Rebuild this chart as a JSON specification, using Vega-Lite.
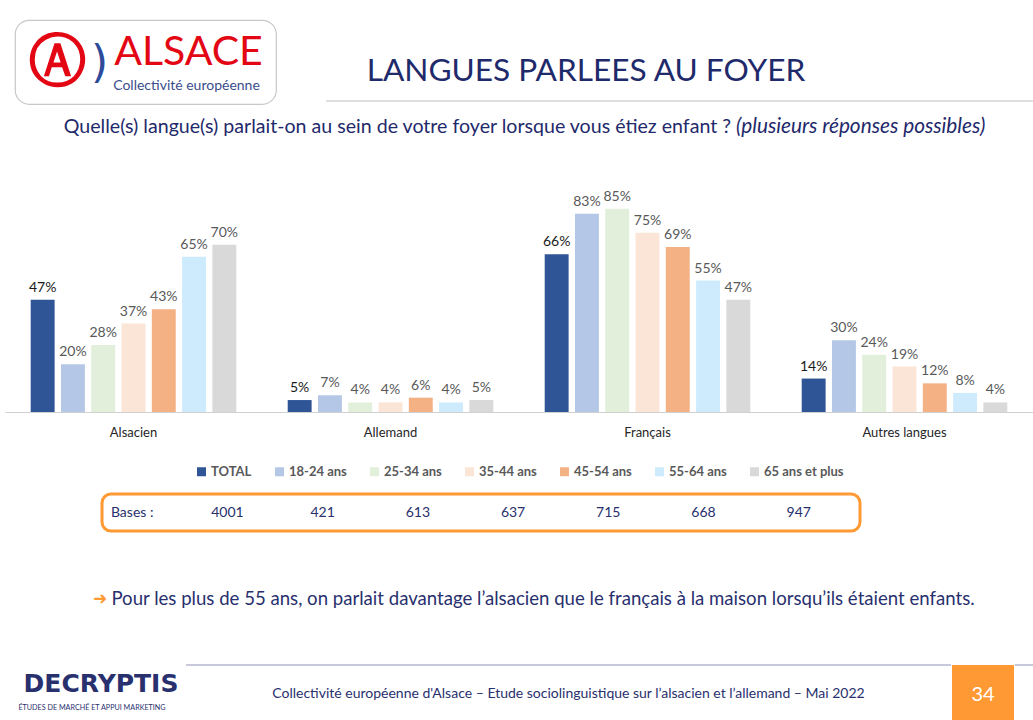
{
  "$schema": "https://vega.github.io/schema/vega-lite/v6.json",
  "padding": {"left": 5, "top": 19, "right": 0, "bottom": 0},
  "background": "white",
  "spacing": 10,
  "resolve": {"legend": {"color": "independent"}, "scale": {"color": "independent"}},
  "config": {
    "view": {"stroke": null},
    "font": "Lato",
    "concat": {"spacing": 0},
    "legend": {"layout": {"bottom": {"anchor": "middle"}}}
  },
  "datasets": {
    "bars": [
      {"langue": "Alsacien", "groupe": "TOTAL", "pct": 0.47},
      {"langue": "Alsacien", "groupe": "18-24 ans", "pct": 0.20},
      {"langue": "Alsacien", "groupe": "25-34 ans", "pct": 0.28},
      {"langue": "Alsacien", "groupe": "35-44 ans", "pct": 0.37},
      {"langue": "Alsacien", "groupe": "45-54 ans", "pct": 0.43},
      {"langue": "Alsacien", "groupe": "55-64 ans", "pct": 0.65},
      {"langue": "Alsacien", "groupe": "65 ans et plus", "pct": 0.70},
      {"langue": "Allemand", "groupe": "TOTAL", "pct": 0.05},
      {"langue": "Allemand", "groupe": "18-24 ans", "pct": 0.07},
      {"langue": "Allemand", "groupe": "25-34 ans", "pct": 0.04},
      {"langue": "Allemand", "groupe": "35-44 ans", "pct": 0.04},
      {"langue": "Allemand", "groupe": "45-54 ans", "pct": 0.06},
      {"langue": "Allemand", "groupe": "55-64 ans", "pct": 0.04},
      {"langue": "Allemand", "groupe": "65 ans et plus", "pct": 0.05},
      {"langue": "Français", "groupe": "TOTAL", "pct": 0.66},
      {"langue": "Français", "groupe": "18-24 ans", "pct": 0.83},
      {"langue": "Français", "groupe": "25-34 ans", "pct": 0.85},
      {"langue": "Français", "groupe": "35-44 ans", "pct": 0.75},
      {"langue": "Français", "groupe": "45-54 ans", "pct": 0.69},
      {"langue": "Français", "groupe": "55-64 ans", "pct": 0.55},
      {"langue": "Français", "groupe": "65 ans et plus", "pct": 0.47},
      {"langue": "Autres langues", "groupe": "TOTAL", "pct": 0.14},
      {"langue": "Autres langues", "groupe": "18-24 ans", "pct": 0.30},
      {"langue": "Autres langues", "groupe": "25-34 ans", "pct": 0.24},
      {"langue": "Autres langues", "groupe": "35-44 ans", "pct": 0.19},
      {"langue": "Autres langues", "groupe": "45-54 ans", "pct": 0.12},
      {"langue": "Autres langues", "groupe": "55-64 ans", "pct": 0.08},
      {"langue": "Autres langues", "groupe": "65 ans et plus", "pct": 0.04}
    ],
    "bases": [
      {"k": "a", "t": "Bases :"},
      {"k": "b", "t": "4001"},
      {"k": "c", "t": "421"},
      {"k": "d", "t": "613"},
      {"k": "e", "t": "637"},
      {"k": "f", "t": "715"},
      {"k": "g", "t": "668"},
      {"k": "h", "t": "947"}
    ]
  },
  "vconcat": [
    {
      "hconcat": [
        {"width": 9, "height": 1, "data": {"values": []}, "mark": "point", "encoding": {}},
        {
          "width": 261, "height": 84,
          "view": {"stroke": "#C8C8C8", "strokeWidth": 1.2, "cornerRadius": 14, "fill": "white"},
          "layer": [
            {"data": {"values": [{"t": "Ⓐ"}]}, "mark": {"type": "text", "font": "DejaVu Sans", "fontSize": 57, "fontWeight": "bold", "color": "#E30613", "dx": -88, "dy": 1}, "encoding": {"text": {"field": "t"}}},
            {"data": {"values": [{"t": ")"}]}, "mark": {"type": "text", "font": "DejaVu Sans", "fontSize": 44, "color": "#2E4A9A", "dx": -46, "dy": 2}, "encoding": {"text": {"field": "t"}}},
            {"data": {"values": [{"t": "ALSACE"}]}, "mark": {"type": "text", "fontSize": 41, "color": "#E30613", "dx": 43, "dy": -9}, "encoding": {"text": {"field": "t"}}},
            {"data": {"values": [{"t": "Collectivité européenne"}]}, "mark": {"type": "text", "fontSize": 14, "color": "#3A4E8C", "dx": 41, "dy": 24}, "encoding": {"text": {"field": "t"}}}
          ]
        },
        {"width": 48, "height": 1, "data": {"values": []}, "mark": "point", "encoding": {}},
        {
          "width": 710, "height": 81,
          "layer": [
            {"data": {"values": [{"t": "LANGUES PARLEES AU FOYER"}]}, "mark": {"type": "text", "fontSize": 31.6, "color": "#1F2A6B", "dx": -95, "dy": 11}, "encoding": {"text": {"field": "t"}}},
            {"data": {"values": [{"v": 0}]}, "mark": {"type": "rule", "color": "#BFBFBF", "strokeWidth": 1.2}, "encoding": {"y": {"field": "v", "type": "quantitative", "scale": {"domain": [0, 1]}, "axis": null}}}
          ]
        }
      ]
    },
    {
      "width": 1028, "height": 47,
      "layer": [
        {"data": {"values": [{"t": "Quelle(s) langue(s) parlait-on au sein de votre foyer lorsque vous étiez enfant ?"}]}, "mark": {"type": "text", "fontSize": 19.6, "color": "#1F2A6B", "align": "right", "dx": 212, "dy": -13}, "encoding": {"text": {"field": "t"}}},
        {"data": {"values": [{"t": "(plusieurs réponses possibles)"}]}, "mark": {"type": "text", "fontSize": 20.8, "fontStyle": "italic", "color": "#1F2A6B", "align": "left", "dx": 217, "dy": -13}, "encoding": {"text": {"field": "t"}}}
      ]
    },
    {
      "width": 1028, "height": 239,
      "data": {"name": "bars"},
      "encoding": {
        "x": {"field": "langue", "type": "nominal", "sort": ["Alsacien", "Allemand", "Français", "Autres langues"],
          "scale": {"paddingInner": 0.2, "paddingOuter": 0.1},
          "axis": {"title": null, "labelAngle": 0, "labelFontSize": 13, "labelColor": "#262626", "ticks": false, "domainColor": "#D0D0D0", "domainWidth": 1.2, "labelPadding": 14}},
        "xOffset": {"field": "groupe", "type": "nominal", "sort": ["TOTAL", "18-24 ans", "25-34 ans", "35-44 ans", "45-54 ans", "55-64 ans", "65 ans et plus"], "scale": {"paddingInner": 0.21, "paddingOuter": 0}},
        "y": {"field": "pct", "type": "quantitative", "scale": {"domain": [0, 1]}, "axis": null}
      },
      "layer": [
        {
          "mark": {"type": "bar"},
          "encoding": {
            "color": {"field": "groupe", "type": "nominal", "sort": ["TOTAL", "18-24 ans", "25-34 ans", "35-44 ans", "45-54 ans", "55-64 ans", "65 ans et plus"],
              "scale": {"domain": ["TOTAL", "18-24 ans", "25-34 ans", "35-44 ans", "45-54 ans", "55-64 ans", "65 ans et plus"], "range": ["#2F5597", "#B4C7E7", "#E2EFDA", "#FBE5D6", "#F4B183", "#CDEBFD", "#D9D9D9"]},
              "legend": {"title": null, "orient": "bottom", "direction": "horizontal", "symbolType": "square", "symbolSize": 81, "symbolStrokeWidth": 0, "labelFontSize": 13, "labelFontWeight": "bold", "labelColor": "#595959", "columnPadding": 21, "labelOffset": 3, "offset": 23, "padding": 3}}
          }
        },
        {
          "mark": {"type": "text", "baseline": "alphabetic", "dy": -8, "fontSize": 14},
          "encoding": {
            "text": {"field": "pct", "type": "quantitative", "format": ".0%"},
            "color": {"condition": {"test": "datum.groupe === 'TOTAL'", "value": "#1A1A1A"}, "value": "#595959"}
          }
        }
      ]
    },
    {
      "hconcat": [
        {"width": 95, "height": 1, "data": {"values": []}, "mark": "point", "encoding": {}},
        {
          "width": 758, "height": 37,
          "view": {"stroke": "#FF9933", "strokeWidth": 3, "cornerRadius": 9},
          "data": {"name": "bases"},
          "mark": {"type": "text", "fontSize": 14, "color": "#28306E"},
          "encoding": {
            "x": {"field": "k", "type": "nominal", "scale": {"type": "point", "padding": 0.48, "align": 0.33}, "axis": null},
            "text": {"field": "t"}
          }
        }
      ]
    },
    {
      "width": 1028, "height": 111,
      "layer": [
        {"data": {"values": [{"t": "➜"}]}, "mark": {"type": "text", "font": "DejaVu Sans", "fontSize": 17, "color": "#FF9933", "dx": -419}, "encoding": {"text": {"field": "t"}}},
        {"data": {"values": [{"t": "Pour les plus de 55 ans, on parlait davantage l’alsacien que le français à la maison lorsqu’ils étaient enfants."}]}, "mark": {"type": "text", "fontSize": 18.6, "color": "#28306E", "dx": 24}, "encoding": {"text": {"field": "t"}}}
      ]
    },
    {
      "hconcat": [
        {
          "width": 180, "height": 58,
          "layer": [
            {"data": {"values": [{"t": "DECRYPTIS"}]}, "mark": {"type": "text", "font": "DejaVu Sans", "fontSize": 25, "fontWeight": "bold", "color": "#28306E", "dx": 6, "dy": -10}, "encoding": {"text": {"field": "t"}}},
            {"data": {"values": [{"t": "ÉTUDES DE MARCHÉ ET APPUI MARKETING"}]}, "mark": {"type": "text", "fontSize": 7.2, "color": "#28306E", "dx": -3, "dy": 14}, "encoding": {"text": {"field": "t"}}}
          ]
        },
        {
          "width": 765, "height": 58,
          "layer": [
            {"data": {"values": [{"v": 1}]}, "mark": {"type": "rule", "color": "#C9C9DD", "strokeWidth": 2}, "encoding": {"y": {"field": "v", "type": "quantitative", "scale": {"domain": [0, 1]}, "axis": null}}},
            {"data": {"values": [{"t": "Collectivité européenne d'Alsace – Etude sociolinguistique sur l’alsacien et l’allemand – Mai 2022"}]}, "mark": {"type": "text", "fontSize": 14, "color": "#28306E", "dy": 0}, "encoding": {"text": {"field": "t"}}}
          ]
        },
        {
          "width": 62, "height": 58,
          "view": {"fill": "#FF9933"},
          "data": {"values": [{"t": "34"}]},
          "mark": {"type": "text", "fontSize": 20, "color": "white", "dy": 1},
          "encoding": {"text": {"field": "t"}}
        },
        {
          "width": 21, "height": 58,
          "data": {"values": [{"v": 1}]},
          "mark": {"type": "rule", "color": "#C9C9DD", "strokeWidth": 2},
          "encoding": {"y": {"field": "v", "type": "quantitative", "scale": {"domain": [0, 1]}, "axis": null}}
        }
      ]
    }
  ]
}
